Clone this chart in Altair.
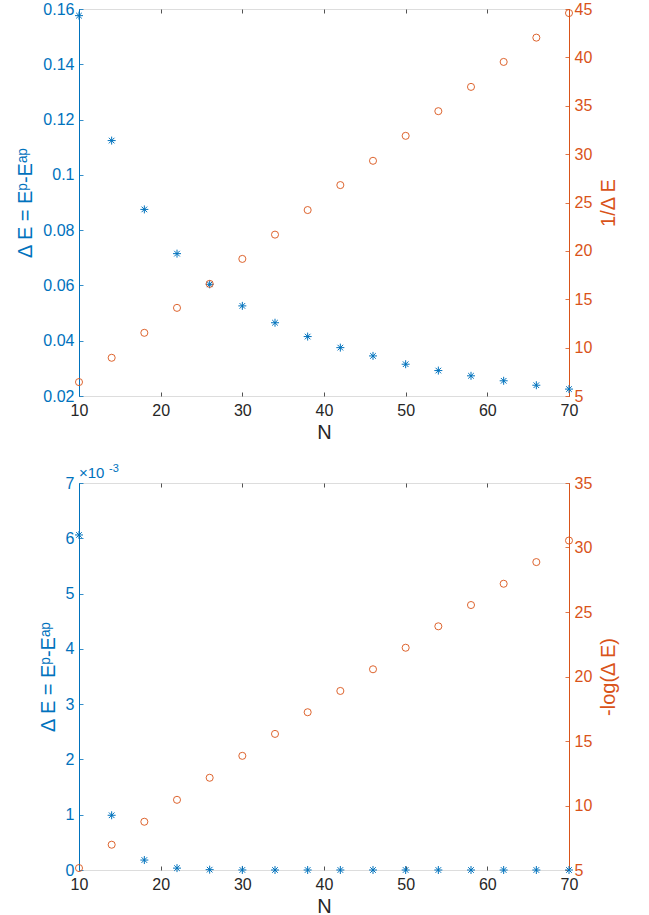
import altair as alt
import pandas as pd

# ---------------- data ----------------
N = [10, 14, 18, 22, 26, 30, 34, 38, 42, 46, 50, 54, 58, 62, 66, 70]
top_dE = [0.1576, 0.1124, 0.0875, 0.0715, 0.0604, 0.0526, 0.0465, 0.0415,
          0.0375, 0.0345, 0.0315, 0.0292, 0.0273, 0.0255, 0.0239, 0.0225]
top_inv = [6.44, 8.95, 11.53, 14.11, 16.59, 19.17, 21.68, 24.22,
           26.80, 29.31, 31.89, 34.44, 36.95, 39.53, 42.04, 44.58]
bot_dE_e3 = [6.06, 0.99, 0.18, 0.034, 0.006, 0.001, 0.0002, 0.00004,
             0.000008, 0.0000015, 0.0000003, 0.00000006, 0.00000001, 0.0, 0.0, 0.0]
bot_neglog = [5.15, 6.96, 8.74, 10.44, 12.15, 13.85, 15.55, 17.23,
              18.88, 20.56, 22.23, 23.89, 25.54, 27.19, 28.87, 30.54]

x_ticks = [10, 20, 30, 40, 50, 60, 70]
top_left_ticks = [0.02, 0.04, 0.06, 0.08, 0.1, 0.12, 0.14, 0.16]
top_right_ticks = [5, 10, 15, 20, 25, 30, 35, 40, 45]
bot_left_ticks = [0, 1, 2, 3, 4, 5, 6, 7]
bot_right_ticks = [5, 10, 15, 20, 25, 30, 35]
exp_base = ["×10"]
exp_power = ["-3"]

BLUE = "#0072BD"
ORANGE = "#D95319"
DARK = "#262626"
FONT = "Liberation Sans"
W, H = 490, 387

ASTERISK = "M-1,0L1,0M0,-1L0,1M-0.7,-0.7L0.7,0.7M-0.7,0.7L0.7,-0.7"

top_df = pd.DataFrame({"N": N, "dE": top_dE, "inv": top_inv})
bot_df = pd.DataFrame({"N": N, "dE": bot_dE_e3, "nl": bot_neglog})


def x_enc():
    return alt.X("N:Q", scale=alt.Scale(domain=[10, 70], nice=False, zero=False),
                 axis=alt.Axis(values=x_ticks, title="N", labelFontSize=16, titleFontSize=20,
                               labelColor=DARK, titleColor=DARK, titleFontWeight="normal",
                               labelFont=FONT, titleFont=FONT, labelFlush=False,
                               labelOverlap=False, domain=False, ticks=False,
                               labelPadding=6, titlePadding=4,
                               grid=True, gridColor=DARK, gridWidth=0.8,
                               gridDash=[4, H - 8, 4, 2000]))


def y_axis(values, title, color, orient, fmt):
    extra = {}
    if orient == "right":
        extra = dict(titleAngle=270, titleBaseline="top")
    return alt.Axis(values=values, title=title, orient=orient, format=fmt,
                    labelFontSize=16, titleFontSize=20, labelColor=color, titleColor=color,
                    titleFontWeight="normal", labelFont=FONT, titleFont=FONT,
                    labelFlush=False, labelOverlap=False, domain=True, domainColor=color,
                    domainWidth=1, ticks=False, labelPadding=5, titlePadding=7,
                    grid=True, gridColor=color, gridWidth=0.8, gridDash=[4, 2000], **extra)


def panel(df, left_field, left_dom, left_ticks, left_title, right_field, right_dom,
          right_ticks, right_title, extra=None):
    left = alt.Chart(df).mark_point(shape=ASTERISK, size=64, strokeWidth=1, color=BLUE,
                                    filled=False, opacity=1).encode(
        x=x_enc(),
        y=alt.Y(f"{left_field}:Q", scale=alt.Scale(domain=left_dom, nice=False, zero=False),
                axis=y_axis(left_ticks, left_title, BLUE, "left", "~g")))
    right = alt.Chart(df).mark_point(shape="circle", size=50, strokeWidth=0.9, color=ORANGE,
                                     filled=False, opacity=1).encode(
        x=alt.X("N:Q"),
        y=alt.Y(f"{right_field}:Q", scale=alt.Scale(domain=right_dom, nice=False, zero=False),
                axis=y_axis(right_ticks, right_title, ORANGE, "right", "~g")))
    layers = [left, right]
    if extra:
        layers += extra
    return alt.layer(*layers).resolve_scale(y="independent").properties(width=W, height=H)


top = panel(top_df, "dE", [0.02, 0.16], top_left_ticks, "Δ E = Eᵖ-Eᵃᵖ",
            "inv", [5, 45], top_right_ticks, "1/Δ E")

exp1 = alt.Chart(pd.DataFrame({"t": exp_base})).mark_text(
    align="left", baseline="alphabetic", fontSize=15, font=FONT, color=BLUE).encode(
    x=alt.value(0), y=alt.value(-5), text="t:N")
exp2 = alt.Chart(pd.DataFrame({"t": exp_power})).mark_text(
    align="left", baseline="alphabetic", fontSize=11, font=FONT, color=BLUE).encode(
    x=alt.value(30), y=alt.value(-11), text="t:N")

bottom = panel(bot_df, "dE", [0, 7], bot_left_ticks, "Δ E = Eᵖ-Eᵃᵖ",
               "nl", [5, 35], bot_right_ticks, "-log(Δ E)", extra=[exp1, exp2])

chart = alt.vconcat(top, bottom, spacing=87, bounds="flush").properties(
    padding={"left": 15, "top": 0, "right": 5, "bottom": 0},
).configure_view(stroke=DARK, strokeWidth=0.8).configure(background="white")

chart.save("out.html", embed_options={"renderer": "svg", "actions": False})
